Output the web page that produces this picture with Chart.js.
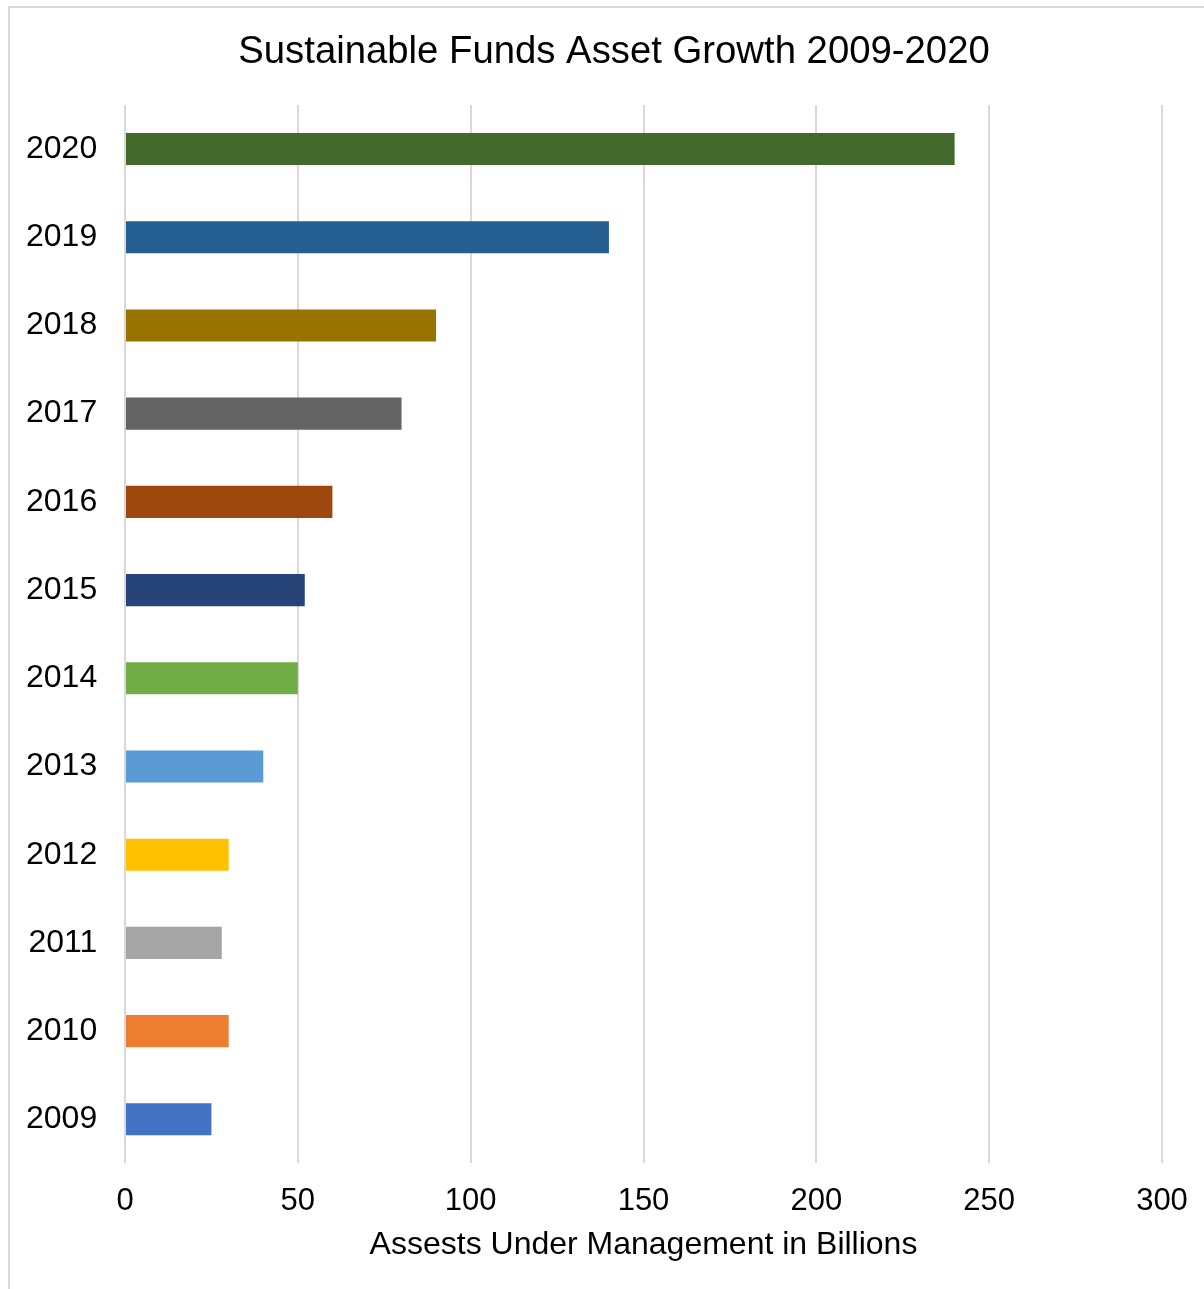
<!DOCTYPE html>
<html>
<head>
<meta charset="utf-8">
<script src="https://cdn.jsdelivr.net/npm/chart.js@4/dist/chart.umd.min.js"></script>
<style>
  html, body { margin: 0; padding: 0; background: #fff; overflow: hidden; }
  #frame { position: absolute; left: 8px; top: 6px; width: 1300px; height: 1400px; border: 2px solid #d9d9d9; box-sizing: border-box; }
  #wrap { position: absolute; left: 0; top: 0; width: 1204px; height: 1289px; }
</style>
</head>
<body>
<div id="frame"></div>
<div id="wrap"><canvas id="myChart"></canvas></div>
<script>
const years = ['2009','2010','2011','2012','2013','2014','2015','2016','2017','2018','2019','2020']
const assets = [25, 30, 28, 30, 40, 50, 52, 60, 80, 90, 140, 240]
const barColors = ['#4472C4','#ED7D31','#A5A5A5','#FFC000','#5B9BD5','#70AD47','#264478','#9E480E','#636363','#997300','#255E91','#43682B']
const xTicks = [0, 50, 100, 150, 200, 250, 300]

const ctx = document.getElementById('myChart')
const fontFamily = '"Liberation Sans", Arial, sans-serif'

const myChart = new Chart(ctx, {
  type: 'bar',
  data: {
    labels: years,
    datasets: [{
      label: 'Assets',
      data: assets,
      backgroundColor: barColors,
      borderWidth: 0,
      barPercentage: 0.364,
      categoryPercentage: 1
    }]
  },
  options: {
    indexAxis: 'y',
    responsive: true,
    maintainAspectRatio: false,
    animation: false,
    // left padding sets where the title centres; the y axis width is fixed so the plot starts at the same place
    layout: { padding: { left: 24, right: 0, top: 29, bottom: 25 } },
    plugins: {
      legend: { display: false },
      tooltip: { enabled: false },
      title: {
        display: true,
        text: 'Sustainable Funds Asset Growth 2009-2020',
        color: '#000',
        font: { family: fontFamily, size: 38.3, weight: 'normal' },
        padding: { top: 0, bottom: 30 }
      }
    },
    scales: {
      x: {
        min: 0,
        max: 300,
        afterBuildTicks: axis => { axis.ticks = xTicks.map(v => ({ value: v })) },
        afterFit: axis => { axis.paddingRight = 42 },
        grid: { color: '#d9d9d9', lineWidth: 2, drawTicks: false },
        border: { display: false },
        ticks: { color: '#000', padding: 19, font: { family: fontFamily, size: 31 } },
        title: {
          display: true,
          text: 'Assests Under Management in Billions',
          color: '#000',
          font: { family: fontFamily, size: 32 },
          padding: { top: -13, bottom: 0 }
        }
      },
      y: {
        reverse: true,
        afterFit: axis => { axis.width = 101 },
        grid: { display: false, drawTicks: false },
        border: { display: false },
        // mirrored so the labels are not clipped to the axis box, pulled back left of the plot
        ticks: { color: '#000', mirror: true, crossAlign: 'far', padding: -99, font: { family: fontFamily, size: 32 } }
      }
    }
  }
})
</script>
</body>
</html>
